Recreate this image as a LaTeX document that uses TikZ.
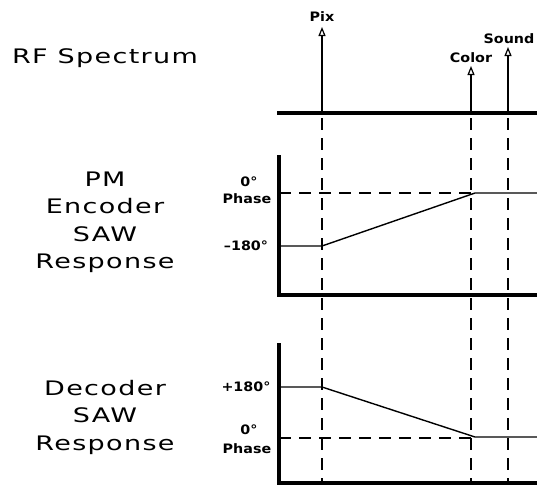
\documentclass[tikz,border=0pt]{standalone}
\usepackage{fontspec}
\usetikzlibrary{arrows.meta}
\newfontfamily\bigfont[LetterSpace=5]{DejaVu Sans}
\newfontfamily\smallfont{DejaVu Sans}
\newcommand{\wide}[1]{\scalebox{1.35}[1]{#1}}
\newcommand{\widesmall}[1]{\scalebox{1.1}[1]{#1}}
\begin{document}
\begin{tikzpicture}[x=1pt,y=-1pt,
  thinline/.style={line width=1.4pt},
  axisline/.style={line width=3.6pt},
  guide/.style={line width=1.1pt, dash pattern=on 12pt off 8pt},
  spike/.style={line width=1.3pt, -{Triangle[open,length=9pt,width=7pt,line width=1.2pt]}},
  big/.style={font=\bigfont\fontsize{20}{27.5}\selectfont, inner sep=0pt},
  small/.style={font=\smallfont\bfseries\fontsize{13}{15}\selectfont, inner sep=0pt},
]
\useasboundingbox (0,0) rectangle (537,485);
% left titles
\node[big] (rf) at (105,58) {\wide{RF Spectrum}};
\node[big] (pm) at (105,222) {\wide{\begin{tabular}{@{}c@{}}PM\\Encoder\\SAW\\Response\end{tabular}}};
\node[big] (dec) at (105,417) {\wide{\begin{tabular}{@{}c@{}}Decoder\\SAW\\Response\end{tabular}}};
% key coordinates
\coordinate (b0) at (277,113); \coordinate (b1) at (537,113);
\coordinate (pixb) at (322,113); \coordinate (pixt) at (322,27);
\coordinate (colb) at (471,113); \coordinate (colt) at (471,66);
\coordinate (sndb) at (508,113); \coordinate (sndt) at (508,47);
\coordinate (g1t) at (322,118); \coordinate (g1b) at (322,485);
\coordinate (g2t) at (471,118); \coordinate (g2b) at (471,485);
\coordinate (g3t) at (508,118); \coordinate (g3b) at (508,485);
% guides
\draw[guide] (g1t) -- (g1b);
\draw[guide] (g2t) -- (g2b);
\draw[guide] (g3t) -- (g3b);
% spectrum
\draw[axisline] (b0) -- (b1);
\draw[spike] (pixb) -- (pixt);
\draw[spike] (colb) -- (colt);
\draw[spike] (sndb) -- (sndt);
\node[small] (pix) at (322,17) {\widesmall{Pix}};
\node[small] (color) at (471,58) {\widesmall{Color}};
\node[small] (sound) at (509,39) {\widesmall{Sound}};
% PM encoder plot
\coordinate (pa0) at (279,155); \coordinate (pa1) at (279,295); \coordinate (pa2) at (537,295);
\draw[axisline] (pa0) -- (pa1) -- (pa2);
\coordinate (pz0) at (279,193); \coordinate (pz1) at (471,193);
\draw[guide] (pz0) -- (pz1);
\coordinate (pc0) at (279,246); \coordinate (pc1) at (322,246);
\coordinate (pc2) at (475,193); \coordinate (pc3) at (537,193);
\draw[thinline] (pc0) -- (pc1) -- (pc2) -- (pc3);
\node[small] (pzero) at (249,182) {\widesmall{0°}};
\node[small] (pphase) at (247,199) {\widesmall{Phase}};
\node[small] (pm180) at (246,246) {\widesmall{–180°}};
% decoder plot
\coordinate (da0) at (279,343); \coordinate (da1) at (279,483); \coordinate (da2) at (537,483);
\draw[axisline] (da0) -- (da1) -- (da2);
\coordinate (dz0) at (279,438); \coordinate (dz1) at (471,438);
\draw[guide] (dz0) -- (dz1);
\coordinate (dc0) at (279,387); \coordinate (dc1) at (322,387);
\coordinate (dc2) at (475,437); \coordinate (dc3) at (537,437);
\draw[thinline] (dc0) -- (dc1) -- (dc2) -- (dc3);
\node[small] (dp180) at (246,387) {\widesmall{+180°}};
\node[small] (dzero) at (249,430) {\widesmall{0°}};
\node[small] (dphase) at (247,449) {\widesmall{Phase}};
\end{tikzpicture}
\end{document}
